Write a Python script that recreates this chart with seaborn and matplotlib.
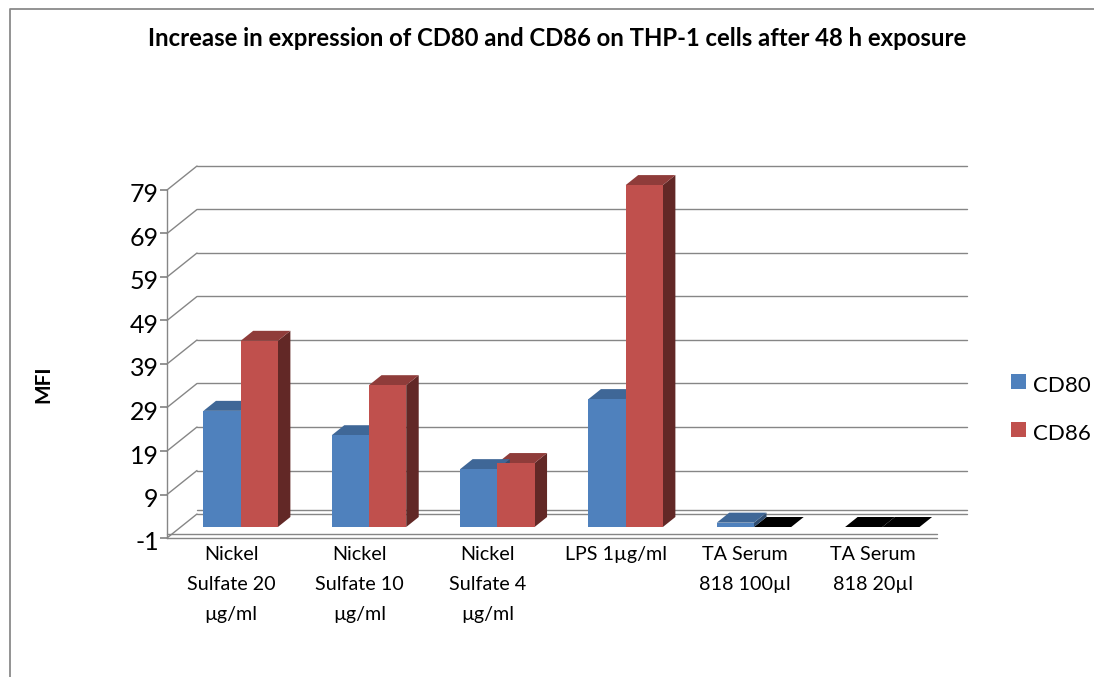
import matplotlib
matplotlib.use("Agg")
import matplotlib.pyplot as plt
import pandas as pd
import seaborn as sns
from matplotlib.patches import Polygon, Rectangle
from matplotlib.transforms import IdentityTransform, ScaledTranslation, offset_copy

categories = ["Nickel\nSulfate 20\nµg/ml", "Nickel\nSulfate 10\nµg/ml", "Nickel\nSulfate 4\nµg/ml",
              "LPS 1µg/ml", "TA Serum\n818 100µl", "TA Serum\n818 20µl"]
cd80 = [26.7, 21.1, 13.3, 29.4, 1.0, 0.0]
cd86 = [42.8, 32.6, 14.7, 78.6, 0.0, 0.0]
y_ticks = [-1, 9, 19, 29, 39, 49, 59, 69, 79]

W, H = 1094, 677
GRID = "#868686"
FACES = {"CD80": ("#4F81BD", "#3F6797", "#2F4D71"),
         "CD86": ("#C0504D", "#8F3C3A", "#622826")}
WALL = (30, 24)    # depth of the chart box, px
DEPTH = (12.5, 10)  # depth of one bar, px

sns.set_theme(style="white")
plt.rcParams["font.family"] = ["Lato", "DejaVu Sans"]
plt.rcParams["axes.unicode_minus"] = False


def px_axes(fig, left, top, right, bottom):
    return fig.add_axes([left / W, 1 - bottom / H, (right - left) / W, (bottom - top) / H])


def main():
    fig = plt.figure(figsize=(W / 100, H / 100), dpi=100)
    fig.patch.set_facecolor("white")

    # outer chart border, open on the right and at the bottom
    fig.add_artist(plt.Line2D([9.5 / W, 9.5 / W, 1], [0, 1 - 8.5 / H, 1 - 8.5 / H], color="#8a8a8a", lw=1.3))

    # front plane of the box: carries the value axis and the category labels
    ax = px_axes(fig, 167, 190, 937, 538)
    ax.set_xlim(-0.5, 5.5)
    ax.set_ylim(-1, 79)
    ax.patch.set_alpha(0)
    sns.despine(ax=ax, top=True, right=True, bottom=True)
    ax.spines["left"].set_color(GRID)
    ax.spines["left"].set_linewidth(1)
    ax.set_yticks(y_ticks)
    ax.set_xticks(range(len(categories)))
    ax.set_xticklabels(categories, fontsize=14.2, color="black", linespacing=1.9, va="top")
    ax.tick_params(axis="x", length=0, pad=6)
    ax.tick_params(axis="y", length=5, left=True, color=GRID, labelsize=18, labelcolor="black", pad=1)
    # value labels sit a little below their ticks
    nudge = ScaledTranslation(0, -3 / 100, fig.dpi_scale_trans)
    for label in ax.get_yticklabels():
        label.set_transform(label.get_transform() + nudge)

    # back wall gridlines and the diagonals that join them to the axis
    back = offset_copy(ax.transData, fig=fig, x=WALL[0], y=WALL[1], units="dots")
    for v in y_ticks + [0]:
        ax.plot([-0.5, 5.5], [v, v], transform=back, color=GRID, lw=1, clip_on=False)
        if v != 0:
            x0, y0 = ax.transData.transform((-0.5, v))
            ax.plot([x0, x0 + WALL[0]], [y0, y0 + WALL[1]], transform=IdentityTransform(),
                    color=GRID, lw=1, clip_on=False)
    for v in [-1, 0]:
        ax.plot([-0.5, 5.5], [v, v], color=GRID, lw=1, clip_on=False)

    # bars stand in a plane set back from the front of the box
    ax_bars = px_axes(fig, 176.5, 183.35, 946.5, 527)
    df = pd.DataFrame({"category": categories * 2, "MFI": cd80 + cd86,
                       "series": ["CD80"] * len(cd80) + ["CD86"] * len(cd86)})
    sns.barplot(data=df, x="category", y="MFI", hue="series", palette={k: v[0] for k, v in FACES.items()},
                width=0.58, gap=0, saturation=1, legend=False, ax=ax_bars, zorder=3, linewidth=0)
    ax_bars.set_xlim(-0.5, 5.5)
    ax_bars.set_ylim(0, 79)
    ax_bars.axis("off")

    # extrude the side and top faces from the bars seaborn drew
    n = len(categories)
    for i, bar in enumerate(ax_bars.patches):
        name = "CD80" if i < n else "CD86"
        _, top_c, side_c = FACES[name]
        z = 1.5 if name == "CD80" else 1
        x0, y0 = ax_bars.transData.transform((bar.get_x(), 0))
        x1, y1 = ax_bars.transData.transform((bar.get_x() + bar.get_width(), bar.get_height()))
        dx, dy = DEPTH
        if bar.get_height() == 0:
            top_c = "black"
        else:
            ax_bars.add_patch(Polygon([(x1, y0), (x1 + dx, y0 + dy), (x1 + dx, y1 + dy), (x1, y1)],
                                      transform=IdentityTransform(), fc=side_c, ec="none", zorder=z, clip_on=False))
        ax_bars.add_patch(Polygon([(x0, y1), (x1, y1), (x1 + dx, y1 + dy), (x0 + dx, y1 + dy)],
                                  transform=IdentityTransform(), fc=top_c, ec="none", zorder=z, clip_on=False))

    fig.text(557 / W, 1 - 39 / H, "Increase in expression of CD80 and CD86 on THP-1 cells after 48 h exposure",
             ha="center", va="center", fontsize=17.2, fontweight="bold", color="black")
    fig.text(43 / W, 1 - 384 / H, "MFI", rotation=90, ha="center", va="center",
             fontsize=15, fontweight="bold", color="black")

    # legend
    for name, ytop in zip(["CD80", "CD86"], [374, 422]):
        fig.add_artist(Rectangle((1011 / W, 1 - (ytop + 15) / H), 15 / W, 15 / H, fc=FACES[name][0], ec="none"))
        fig.text(1033 / W, 1 - (ytop + 12) / H, name, ha="left", va="center", fontsize=16, color="black")

    fig.savefig("out.png", dpi=100)


if __name__ == "__main__":
    main()
